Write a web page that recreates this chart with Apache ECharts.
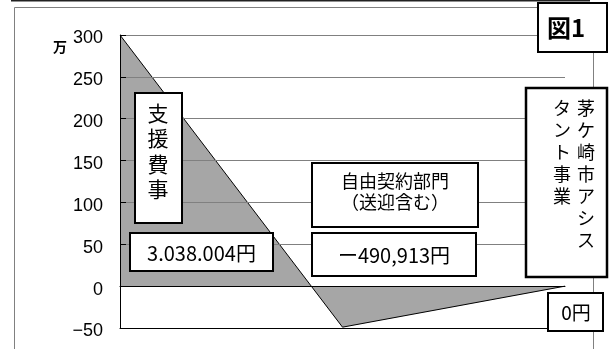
<!DOCTYPE html>
<html><head><meta charset="utf-8">
<script src="https://cdn.jsdelivr.net/npm/echarts@6/dist/echarts.min.js"></script>
<style>html,body{margin:0;padding:0;background:#fff}#c{width:609px;height:349px}</style>
</head><body><div id="c"></div>
<script>
// ---- data ----
const categories = ['支援費事業', '自由契約部門', '茅ヶ崎市アシスタント事業'];
const values = [300, -49, 0];          // 万円
const yMin = -50, yMax = 300, yStep = 50;
const unitLabel = '万';
const figLabel = '図1';
const label1Title = ['支', '援', '費', '事'];
const label1Value = '3.038.004円';
const label2Title = ['自由契約部門', '（送迎含む）'];
const label2Value = 'ー490,913円';
const label3ColRight = ['茅', 'ケ', '崎', '市', 'ア', 'シ', 'ス'];
const label3ColLeft = ['タ', 'ン', 'ト', '事', '業'];
const label3Value = '0円';

const JP = '"Noto Sans CJK JP", sans-serif';
const chart = echarts.init(document.getElementById('c'), null, {renderer: 'canvas'});

function box(x, y, w, h, lw) {
  return {type: 'rect', z: 100, shape: {x: x, y: y, width: w, height: h},
    style: {fill: '#fff', stroke: '#000', lineWidth: lw || 2}};
}
function txt(x, y, text, size, opts) {
  opts = opts || {};
  return {type: 'text', z: 101, x: x, y: y,
    style: {text: text, fill: '#000', font: (opts.weight || 'normal') + ' ' + size + 'px ' + (opts.family || JP),
      align: 'center', verticalAlign: opts.va || 'middle', lineHeight: opts.lh || size}};
}

chart.setOption({
  animation: false,
  backgroundColor: '#fff',
  grid: {left: 120, right: 44, top: 35, bottom: 21, containLabel: false},
  xAxis: [
    {type: 'category', data: categories, boundaryGap: false, z: 10,
     axisLine: {onZero: true, lineStyle: {color: '#000', width: 1}},
     axisTick: {show: false}, axisLabel: {show: false}, splitLine: {show: false}},
    {type: 'category', data: categories, boundaryGap: false, position: 'bottom', z: 10,
     axisLine: {onZero: false, lineStyle: {color: '#000', width: 1}},
     axisTick: {show: false}, axisLabel: {show: false}, splitLine: {show: false}}
  ],
  yAxis: {
    type: 'value', min: yMin, max: yMax, interval: yStep, z: 10,
    axisLine: {show: true, lineStyle: {color: '#000', width: 1}},
    axisTick: {show: true, inside: true, length: 6, lineStyle: {color: '#000'}},
    axisLabel: {color: '#000', fontSize: 18, fontFamily: '"Liberation Sans", Arial, sans-serif', margin: 17,
      verticalAlign: 'top', lineHeight: 7,
      formatter: function (v) { return String(v).replace('-', '\u2212'); }},
    splitLine: {show: true, lineStyle: {color: '#808080', width: 1}}
  },
  series: [{
    type: 'line', data: values, xAxisIndex: 0, showSymbol: false, symbol: 'none',
    lineStyle: {color: '#000', width: 1},
    areaStyle: {color: '#a6a6a6', opacity: 1},
    z: 2
  }],
  graphic: [
    {type: 'line', z: 1, shape: {x1: 11, y1: 0.5, x2: 590, y2: 0.5}, style: {stroke: '#222', lineWidth: 2}},
    {type: 'rect', z: 1, shape: {x: 14.5, y: 7.5, width: 579, height: 360}, style: {fill: 'none', stroke: '#808080', lineWidth: 1}},
    txt(60, 47, unitLabel, 14, {weight: 'bold'}),
    box(538, 3, 69, 49, 2),
    txt(566, 28, figLabel, 24, {weight: 'bold'}),
    box(135, 93, 47, 130, 2),
    txt(158, 100, label1Title.join('\n'), 21, {va: 'top', lh: 25.5}),
    box(130, 233, 143, 38, 2),
    txt(201.5, 253, label1Value, 20),
    box(312, 163, 166, 64, 2),
    txt(395, 192, label2Title.join('\n'), 18, {lh: 21}),
    box(312, 233, 164, 43, 2),
    txt(394, 255, label2Value, 20),
    box(526, 88, 81, 189, 2.5),
    txt(586, 97, label3ColRight.join('\n'), 18, {va: 'top', lh: 22}),
    txt(562, 97, label3ColLeft.join('\n'), 18, {va: 'top', lh: 22}),
    box(548, 293, 55, 38, 2),
    txt(576, 313, label3Value, 19)
  ]
});
</script></body></html>
